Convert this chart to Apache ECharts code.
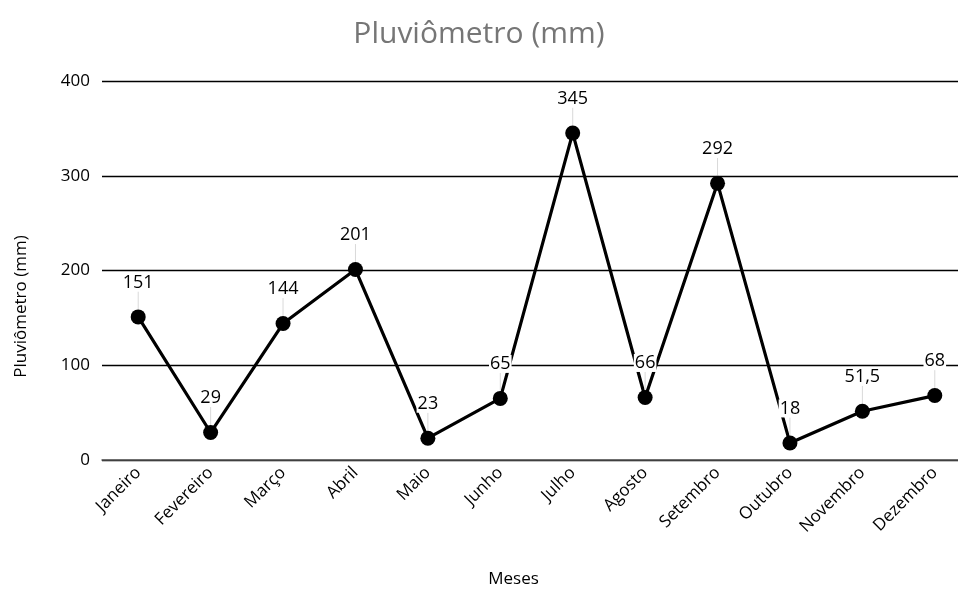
<!DOCTYPE html>
<html>
<head>
<meta charset="utf-8">
<script src="https://cdn.jsdelivr.net/npm/echarts@6/dist/echarts.min.js"></script>
<style>
  html, body { margin: 0; padding: 0; background: #fff; }
  #chart { width: 958px; height: 589px; }
</style>
</head>
<body>
<div id="chart"></div>
<script>
// Monthly rainfall readings
const meses = ['Janeiro', 'Fevereiro', 'Março', 'Abril', 'Maio', 'Junho',
               'Julho', 'Agosto', 'Setembro', 'Outubro', 'Novembro', 'Dezembro'];
const chuva = [151, 29, 144, 201, 23, 65, 345, 66, 292, 18, 51.5, 68];
const yTicks = [0, 100, 200, 300, 400];

const FONT = '"Open Sans", "Noto Sans", sans-serif';

const chart = echarts.init(document.getElementById('chart'));
chart.setOption({
  animation: false,
  textStyle: { fontFamily: FONT },
  title: {
    text: 'Pluviômetro (mm)',
    left: 'center',
    top: 14,
    textStyle: { fontFamily: FONT, fontSize: 30, fontWeight: 'normal', color: '#767676' }
  },
  // plot area runs slightly past the right edge of the canvas
  grid: {
    left: 102, width: 869, top: 81, height: 379,
    containLabel: false, outerBoundsMode: 'none'
  },
  xAxis: {
    type: 'category',
    data: meses,
    boundaryGap: true,
    name: 'Meses',
    nameLocation: 'middle',
    nameGap: 111,
    nameTextStyle: { fontFamily: FONT, fontSize: 17, color: '#000', padding: [0, 46, 0, 0] },
    axisLine: { lineStyle: { color: '#555', width: 1.5 } },
    axisTick: { show: false },
    axisLabel: { rotate: 45, fontFamily: FONT, fontSize: 17, color: '#000', margin: 10, interval: 0 }
  },
  yAxis: {
    type: 'value',
    min: yTicks[0],
    max: yTicks[yTicks.length - 1],
    interval: 100,
    name: 'Pluviômetro (mm)',
    nameLocation: 'middle',
    nameGap: 72,
    nameTextStyle: { fontFamily: FONT, fontSize: 17, color: '#000', padding: [0, 72, 0, 0] },
    axisLine: { show: false },
    axisTick: { show: false },
    axisLabel: { fontFamily: FONT, fontSize: 17, color: '#000', margin: 12 },
    splitLine: { lineStyle: { color: '#000', width: 1.3 } }
  },
  series: [{
    type: 'line',
    data: chuva,
    symbol: 'circle',
    symbolSize: 15,
    itemStyle: { color: '#000' },
    lineStyle: { color: '#000', width: 3.2 },
    label: {
      show: true,
      position: 'top',
      distance: 3,
      fontFamily: FONT,
      fontSize: 18,
      color: '#000',
      backgroundColor: '#fff',
      padding: [0, 1],
      formatter: p => String(p.value).replace('.', ',')
    },
    labelLayout: { dy: -15 },
    labelLine: { show: true, lineStyle: { color: '#d9d9d9', width: 1 } }
  }]
});
</script>
</body>
</html>
